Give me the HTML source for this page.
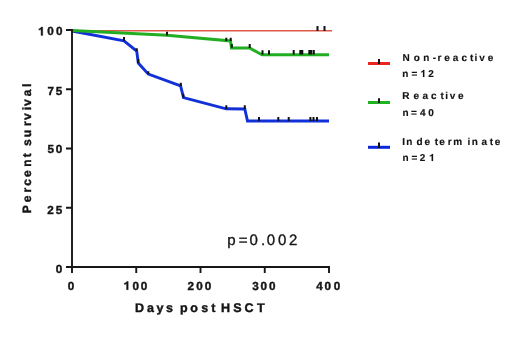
<!DOCTYPE html>
<html><head><meta charset="utf-8">
<style>
html,body{margin:0;padding:0;background:#fff;width:520px;height:353px;overflow:hidden}
svg{display:block;will-change:transform;filter:blur(0.4px)}
text{font-family:"Liberation Sans",sans-serif;fill:#141414;text-rendering:geometricPrecision}
.b{font-weight:bold;stroke:#141414;stroke-width:0.4px}
.r{stroke:#141414;stroke-width:0.35px}
.l{stroke-width:0.15px}
</style></head><body>
<svg width="520" height="353" viewBox="0 0 520 353">
<rect width="520" height="353" fill="#fff"/>
<g fill="none" stroke-linejoin="miter" stroke-linecap="butt">
<polyline points="72,30.8 332,30.8" stroke="#e05a4a" stroke-width="1.6"/>
<polyline points="72,31 124,40.8 136.7,51 138.3,63 148.3,74.1 180.6,85.8 183.5,97.6 226.2,108.8 244.8,109 247.5,121 329,121" stroke="#1230d8" stroke-width="2.9"/>
<polyline points="72,30.6 167,35.3 230.5,41 231.5,47.9 249.5,47.9 262,54.7 329,54.7" stroke="#22ae22" stroke-width="3"/>
</g>
<g stroke="#111" stroke-width="2">
<path d="M317.5,26V31 M324.5,26V31"/>
<path d="M167,31.7V35.5 M226.3,37.7V41 M230.7,37.7V41 M231.8,44V47.7 M249.7,44V48 M262.5,50.2V54.5 M269,50.2V54.5 M293.7,50V54.5 M300.3,50V54.5 M302.3,50V54.5 M309.3,50V54.5 M311.3,50V54.5 M313.8,50V54.5"/>
<path d="M124,37V41 M136.7,48.2V51 M138.2,59V63 M148.3,71.3V74 M180.8,82.7V86 M183.3,94V97.5 M226.3,105.2V109 M244.8,105.2V109 M259,117V121 M278.3,117V121 M288.7,117V121 M310.4,117V121 M313.5,117V121 M317,117V121"/>
</g>
<g stroke="#161616" stroke-width="1.9" fill="none">
<path d="M72,29V273"/>
<path d="M66,267H330"/>
<path d="M66,30H72 M66,89.25H72 M66,148.5H72 M66,207.75H72"/>
<path d="M136.25,267V273 M200.5,267V273 M264.75,267V273 M329,267V273"/>
</g>
<text class="b" font-size="11.7" x="47.14 56.04" y="35.4">00</text>
<path transform="translate(38.08,35.40) scale(0.01170,-0.01170)" d="M395,0 L395,710 L285,710 C265,660 220,610 160,585 C130,572 100,565 70,562 L70,452 C145,458 205,480 255,515 L255,0 Z" fill="#141414" stroke="#141414" stroke-width="0.400" vector-effect="non-scaling-stroke"/>
<text class="b" font-size="11.7" x="47.60 55.84" y="94.5">75</text>
<text class="b" font-size="11.7" x="47.54 55.74" y="153.4">50</text>
<text class="b" font-size="11.7" x="47.19 55.84" y="213.5">25</text>
<text class="b" font-size="11.7" x="55.74" y="272.6">0</text>
<text class="b" font-size="11.7" x="67.74" y="289.7">0</text>
<text class="b" font-size="11.7" x="132.44 140.84" y="289.7">00</text>
<path transform="translate(123.58,289.70) scale(0.01170,-0.01170)" d="M395,0 L395,710 L285,710 C265,660 220,610 160,585 C130,572 100,565 70,562 L70,452 C145,458 205,480 255,515 L255,0 Z" fill="#141414" stroke="#141414" stroke-width="0.400" vector-effect="non-scaling-stroke"/>
<text class="b" font-size="11.7" x="187.59 196.14 204.64" y="289.7">200</text>
<text class="b" font-size="11.7" x="252.23 260.54 269.04" y="289.7">300</text>
<text class="b" font-size="11.7" x="316.32 324.54 333.74" y="289.7">400</text>
<text class="b" font-size="12.5" x="134.96 146.93 156.50 166.06 179.98 190.31 201.16 211.35 220.96 233.24 244.59 256.96" y="311.9">DayspostHSCT</text>
<text class="b" font-size="12" x="-0.80 10.23 20.01 26.73 35.53 45.71 55.15 66.58 75.36 86.41 92.55 102.36 106.45 116.35 125.46" y="0" transform="translate(30.8,212.50) rotate(-90)">Percentsurvival</text>
<text class="r" font-size="15" x="227.33 238.77 249.61 261.03 266.81 277.91 288.95" y="244.6">p=0.002</text>
<text class="b l" font-size="10.0" x="402.53 413.71 423.34 432.81 437.44 444.31 452.81 461.61 469.98 474.60 479.16 487.71" y="61.1">Non-reactive</text>
<text class="b l" font-size="10.0" x="402.14 411.38 428.35" y="77.0">n=2</text>
<path transform="translate(420.40,77.00) scale(0.01000,-0.01000)" d="M395,0 L395,710 L285,710 C265,660 220,610 160,585 C130,572 100,565 70,562 L70,452 C145,458 205,480 255,515 L255,0 Z" fill="#141414" stroke="#141414" stroke-width="0.150" vector-effect="non-scaling-stroke"/>
<text class="b l" font-size="10.0" x="402.13 413.51 422.61 431.01 440.58 445.20 449.66 458.01" y="99.0">Reactive</text>
<text class="b l" font-size="10.0" x="402.44 410.98 419.95 428.30" y="116.4">n=40</text>
<text class="b l" font-size="10.0" x="402.13 406.24 416.59 424.51 434.68 439.31 447.74 453.24 467.40 471.84 481.51 489.78 494.71" y="144.5">Indeterminate</text>
<text class="b l" font-size="10.0" x="402.44 411.38 419.75" y="161.0">n=2</text>
<path transform="translate(429.10,161.00) scale(0.01000,-0.01000)" d="M395,0 L395,710 L285,710 C265,660 220,610 160,585 C130,572 100,565 70,562 L70,452 C145,458 205,480 255,515 L255,0 Z" fill="#141414" stroke="#141414" stroke-width="0.150" vector-effect="non-scaling-stroke"/>
<g stroke-width="3">
<path d="M368,63.5H390" stroke="#e8281e"/>
<path d="M368,102.5H390" stroke="#1fb41f"/>
<path d="M368,147.3H390" stroke="#0a28d8"/>
</g>
<g stroke="#111" stroke-width="2">
<path d="M379,59V64 M379,98.3V103 M379,142.6V148"/>
</g>
</svg>
</body></html>
